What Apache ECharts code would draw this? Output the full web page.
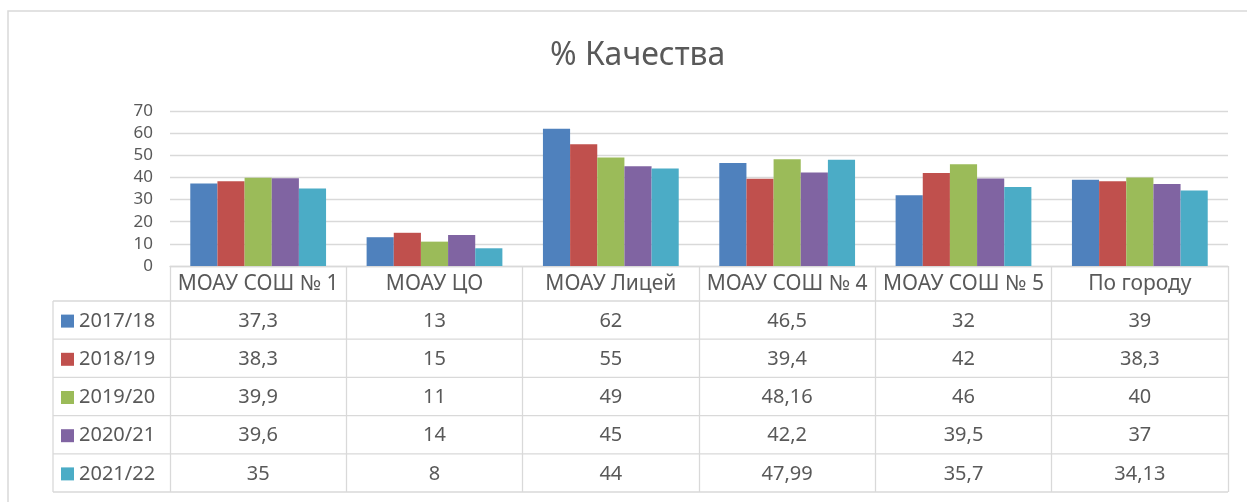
<!DOCTYPE html>
<html>
<head>
<meta charset="utf-8">
<title>% Качества</title>
<script src="https://cdn.jsdelivr.net/npm/echarts@6/dist/echarts.min.js"></script>
<style>
    html, body { margin: 0; padding: 0; background: #fff; }
    #main { width: 1247px; height: 502px; }
</style>
</head>
<body>
<div id="main"></div>
<script>
// данные
var categories = ['МОАУ СОШ № 1', 'МОАУ ЦО', 'МОАУ Лицей', 'МОАУ СОШ № 4', 'МОАУ СОШ № 5', 'По городу'];
var years = ['2017/18', '2018/19', '2019/20', '2020/21', '2021/22'];
var data1718 = [37.3, 13, 62, 46.5, 32, 39];
var data1819 = [38.3, 15, 55, 39.4, 42, 38.3];
var data1920 = [39.9, 11, 49, 48.16, 46, 40];
var data2021 = [39.6, 14, 45, 42.2, 39.5, 37];
var data2122 = [35, 8, 44, 47.99, 35.7, 34.13];
var yTicks = [0, 10, 20, 30, 40, 50, 60, 70];

var seriesValues = [data1718, data1819, data1920, data2021, data2122];
var colors = ['#4F81BD', '#C0504D', '#9BBB59', '#8064A2', '#4BACC6'];

var fontName = '"Noto Sans", sans-serif';
var textColor = '#595959';
var lineColor = '#d9d9d9';

// разметка
var gridLeft = 170, gridRight = 19, gridTop = 111, gridHeight = 155;
var headerH = 35, rowH = 38.2, tableLeft = 53;
var axisY = gridTop + gridHeight;

var myChart = echarts.init(document.getElementById('main'));

// оси: заголовок таблицы + по одной оси на каждую строку
var xAxes = [{
    type: 'category',
    data: categories,
    axisLine: { show: true, lineStyle: { color: lineColor, width: 1.3 } },
    axisTick: { show: true, length: headerH + rowH * years.length, lineStyle: { color: lineColor, width: 1.3 } },
    axisLabel: {
        interval: 0, margin: headerH / 2 + 1, verticalAlign: 'middle',
        color: textColor, fontSize: 21, fontFamily: fontName
    }
}];
for (var i = 0; i < years.length; i++) {
    (function (vals) {
        xAxes.push({
            type: 'category',
            data: categories,
            position: 'bottom',
            offset: headerH + rowH * i,
            axisLine: { show: false },
            axisTick: { show: false },
            axisLabel: {
                interval: 0, margin: rowH / 2 + 1, verticalAlign: 'middle',
                color: textColor, fontSize: 20, fontFamily: fontName,
                formatter: function (v, idx) {
                    return String(vals[idx]).replace('.', ',');
                }
            }
        });
    })(seriesValues[i]);
}

var series = [];
for (var s = 0; s < years.length; s++) {
    series.push({
        name: years[s],
        type: 'bar',
        barGap: '0%',
        barCategoryGap: '23%',
        itemStyle: { color: colors[s] },
        data: seriesValues[s]
    });
}

// линии таблицы
var graphics = [{
    type: 'rect',
    shape: { x: 8, y: 11, width: 1400, height: 700 },
    style: { fill: 'none', stroke: lineColor, lineWidth: 1.5 },
    silent: true
}, {
    type: 'line',
    shape: { x1: tableLeft, y1: axisY + headerH, x2: tableLeft, y2: axisY + headerH + rowH * years.length },
    style: { stroke: lineColor, lineWidth: 1.3 },
    silent: true
}];
for (var r = 0; r <= years.length; r++) {
    var y = axisY + headerH + rowH * r;
    graphics.push({
        type: 'line',
        shape: { x1: tableLeft, y1: y, x2: 1247 - gridRight, y2: y },
        style: { stroke: lineColor, lineWidth: 1.3 },
        silent: true
    });
}

var option = {
    animation: false,
    color: colors,
    title: {
        text: '% Качества',
        left: 545,
        top: 35,
        textStyle: { color: textColor, fontSize: 32, fontWeight: 'normal', fontFamily: fontName }
    },
    legend: {
        orient: 'vertical',
        left: 61,
        top: axisY + headerH + 1,
        padding: 0,
        itemGap: 0,
        itemWidth: 13,
        itemHeight: 13,
        icon: 'rect',
        data: years,
        selectedMode: false,
        textStyle: { color: textColor, fontSize: 20, lineHeight: rowH, fontFamily: fontName }
    },
    grid: {
        left: gridLeft,
        right: gridRight,
        top: gridTop,
        height: gridHeight
    },
    xAxis: xAxes,
    yAxis: {
        type: 'value',
        min: yTicks[0],
        max: yTicks[yTicks.length - 1],
        interval: 10,
        axisLine: { show: false },
        axisTick: { show: false },
        splitLine: { lineStyle: { color: lineColor, width: 1.3 } },
        axisLabel: { color: textColor, fontSize: 17, margin: 17, fontFamily: fontName }
    },
    graphic: graphics,
    series: series
};

myChart.setOption(option);
</script>
</body>
</html>
